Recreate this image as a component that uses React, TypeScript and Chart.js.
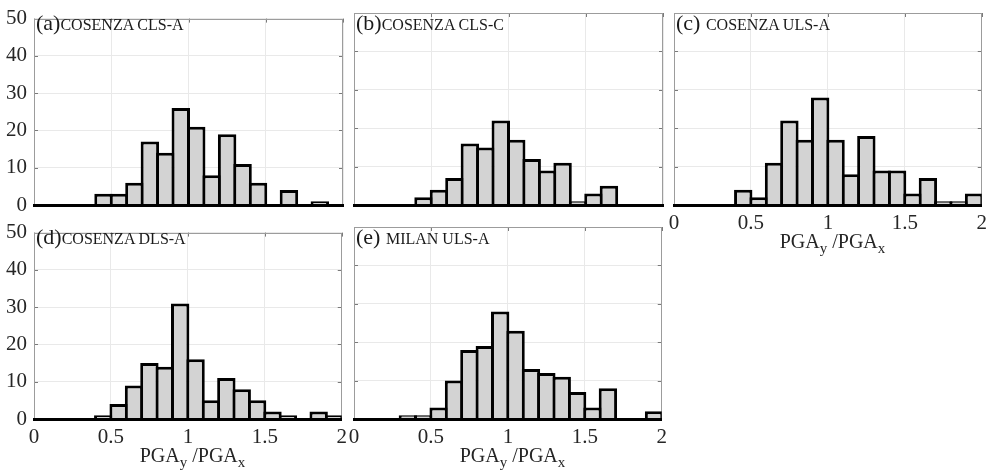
import React, { useEffect, useRef } from 'react';
import { Chart, registerables } from 'chart.js';

Chart.register(...registerables);

// Histogram bins of width 0.1 between 0 and 2 (bin centres)
const binCenters = [0.05, 0.15, 0.25, 0.35, 0.45, 0.55, 0.65, 0.75, 0.85, 0.95, 1.05, 1.15, 1.25, 1.35, 1.45, 1.55, 1.65, 1.75, 1.85, 1.95];
const xTickValues = [0, 0.5, 1, 1.5, 2];
const yTickValues = [0, 10, 20, 30, 40, 50];

// Counts per bin
const cosenzaClsA = [0, 0, 0, 0, 3, 3, 6, 17, 14, 26, 21, 8, 19, 11, 6, 0, 4, 0, 1, 0];
const cosenzaClsC = [0, 0, 0, 0, 2, 4, 7, 16, 15, 22, 17, 12, 9, 11, 1, 3, 5, 0, 0, 0];
const cosenzaUlsA = [0, 0, 0, 0, 4, 2, 11, 22, 17, 28, 17, 8, 18, 9, 9, 3, 7, 1, 1, 3];
const cosenzaDlsA = [0, 0, 0, 0, 1, 4, 9, 15, 14, 31, 16, 5, 11, 8, 5, 2, 1, 0, 2, 1];
const milanUlsA = [0, 0, 0, 1, 1, 3, 10, 18, 19, 28, 23, 13, 12, 11, 7, 3, 8, 0, 0, 2];

const panelTags = ['(a)', '(b)', '(c)', '(d)', '(e)'];
const panelNames = ['COSENZA CLS-A', 'COSENZA CLS-C', 'COSENZA ULS-A', 'COSENZA DLS-A', 'MILAN ULS-A'];

const FONT = '"Liberation Serif", "Times New Roman", serif';
const PAD_L = 40;
const PAD_T = 14;
const PAD_R = 10;
const PAD_B = 60;

const framePlugin = {
  id: 'frame',
  beforeDatasetsDraw(chart: any) {
    const { ctx, chartArea: a, scales } = chart;
    ctx.save();
    // inside tick marks
    ctx.strokeStyle = '#7a7a7a';
    ctx.lineWidth = 1;
    ctx.beginPath();
    for (const v of yTickValues) {
      const y = Math.round(scales.y.getPixelForValue(v)) + 0.5;
      ctx.moveTo(a.left, y);
      ctx.lineTo(a.left + 4, y);
      ctx.moveTo(a.right, y);
      ctx.lineTo(a.right - 4, y);
    }
    for (const v of xTickValues) {
      const x = Math.round(scales.x.getPixelForValue(v)) + 0.5;
      ctx.moveTo(x, a.top);
      ctx.lineTo(x, a.top + 4);
    }
    ctx.stroke();
    // frame
    ctx.strokeStyle = '#9c9c9c';
    ctx.strokeRect(Math.round(a.left) + 0.5, Math.round(a.top) + 0.5, Math.round(a.right - a.left) - 1, Math.round(a.bottom - a.top));
    ctx.restore();
  },
};

type PanelProps = {
  values: number[];
  left: number;
  top: number;
  width: number;
  height: number;
  showX: boolean;
  showY: boolean;
  tag: string;
  name: string;
  gap: boolean;
  xTitle: boolean;
};

function Panel({ values, left, top, width, height, showX, showY, tag, name, gap, xTitle }: PanelProps) {
  const ref = useRef<HTMLCanvasElement>(null);
  useEffect(() => {
    const chart = new Chart(ref.current as HTMLCanvasElement, {
      type: 'bar',
      data: {
        datasets: [
          {
            data: binCenters.map((x, i) => ({ x, y: values[i] })),
            backgroundColor: '#d3d3d3',
            borderColor: '#000000',
            borderWidth: 3,
            borderSkipped: 'start',
            barPercentage: 1 + 60 / width,
            categoryPercentage: 1,
          } as any,
        ],
      },
      options: {
        animation: false,
        responsive: false,
        devicePixelRatio: 1,
        layout: { padding: { top: PAD_T, right: PAD_R, left: 0, bottom: 0 } },
        plugins: { legend: { display: false }, tooltip: { enabled: false }, title: { display: false } },
        scales: {
          x: {
            type: 'linear',
            min: 0,
            max: 2,
            offset: false,
            afterBuildTicks: (s: any) => {
              s.ticks = xTickValues.map((v) => ({ value: v }));
            },
            afterFit: (s: any) => {
              s.height = PAD_B;
            },
            grid: { color: '#e9e9e9', drawTicks: false, offset: false },
            border: { display: true, color: '#000000', width: 3, z: 1 },
            ticks: {
              display: showX,
              padding: 6,
              color: '#262626',
              font: { family: FONT, size: 21 },
              maxRotation: 0,
              autoSkip: false,
              callback: (v: any) => String(v),
            },
          },
          y: {
            type: 'linear',
            min: 0,
            max: 50,
            afterBuildTicks: (s: any) => {
              s.ticks = yTickValues.map((v) => ({ value: v }));
            },
            afterFit: (s: any) => {
              s.width = PAD_L;
            },
            grid: { color: '#e9e9e9', drawTicks: false },
            border: { display: false },
            ticks: {
              display: showY,
              padding: 7,
              color: '#262626',
              font: { family: FONT, size: 21 },
              callback: (v: any) => String(v),
            },
          },
        } as any,
      },
      plugins: [framePlugin],
    });
    return () => chart.destroy();
  }, [values, width, height, showX, showY]);

  return (
    <>
      <canvas
        ref={ref}
        width={width + PAD_L + PAD_R}
        height={height + PAD_T + PAD_B}
        style={{ position: 'absolute', left: left - PAD_L, top: top - PAD_T, width: width + PAD_L + PAD_R, height: height + PAD_T + PAD_B }}
      />
      <div
        style={{
          position: 'absolute',
          left: left + 2,
          top: top - 1,
          fontSize: 22,
          lineHeight: '22px',
          color: '#1a1a1a',
          whiteSpace: 'nowrap',
        }}
      >
        {tag}
        {gap ? ' ' : ''}
        <span style={{ fontSize: 16 }}>{name}</span>
      </div>
      {xTitle && (
        <div
          style={{
            position: 'absolute',
            left: left + 4,
            width: width,
            top: top + height + 26,
            textAlign: 'center',
            fontSize: 20,
            lineHeight: '20px',
            color: '#262626',
            whiteSpace: 'nowrap',
          }}
        >
          PGA<span style={{ fontSize: 15, verticalAlign: -5 }}>y</span> /PGA<span style={{ fontSize: 15, verticalAlign: -5 }}>x</span>
        </div>
      )}
    </>
  );
}

export default function App() {
  const W = 309;
  const H = 192;
  const cols = [34, 354, 674];
  const rows = [13, 227];
  return (
    <div style={{ position: 'absolute', left: 0, top: 0, width: 993, height: 471, background: '#fff', fontFamily: FONT, overflow: 'hidden' }}>
      <Panel values={cosenzaClsA} left={cols[0]} top={rows[0]} width={W} height={H} showX={false} showY={true} tag={panelTags[0]} name={panelNames[0]} gap={false} xTitle={false} />
      <Panel values={cosenzaClsC} left={cols[1]} top={rows[0]} width={W} height={H} showX={false} showY={false} tag={panelTags[1]} name={panelNames[1]} gap={false} xTitle={false} />
      <Panel values={cosenzaUlsA} left={cols[2]} top={rows[0]} width={W} height={H} showX={true} showY={false} tag={panelTags[2]} name={panelNames[2]} gap={true} xTitle={true} />
      <Panel values={cosenzaDlsA} left={cols[0]} top={rows[1]} width={W} height={H} showX={true} showY={true} tag={panelTags[3]} name={panelNames[3]} gap={false} xTitle={true} />
      <Panel values={milanUlsA} left={cols[1]} top={rows[1]} width={W} height={H} showX={true} showY={false} tag={panelTags[4]} name={panelNames[4]} gap={true} xTitle={true} />
    </div>
  );
}
